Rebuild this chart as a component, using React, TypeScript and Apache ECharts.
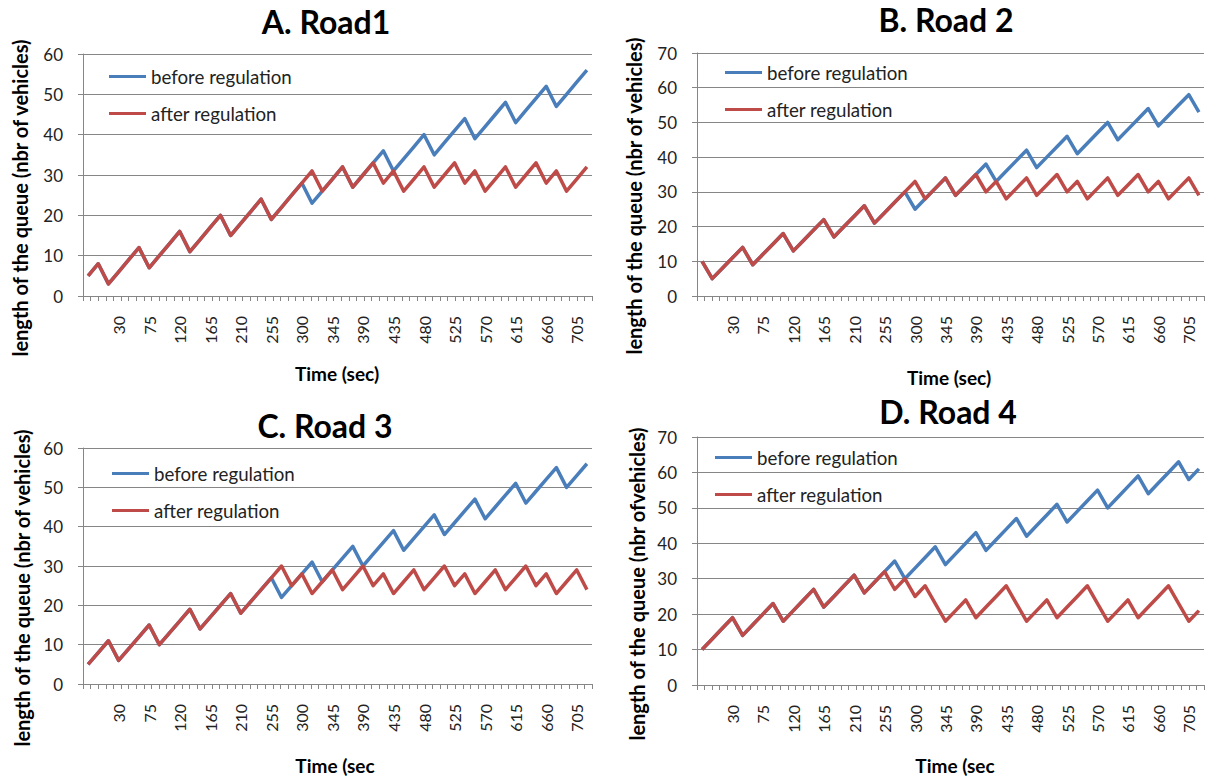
import React, { useEffect, useRef } from "react";
import * as echarts from "echarts";

// Category axis (seconds); first slot carries no label
const TIME = ["", "0", "15", "30", "45", "60", "75", "90", "105", "120", "135", "150", "165", "180", "195", "210", "225", "240", "255", "270", "285", "300", "315", "330", "345", "360", "375", "390", "405", "420", "435", "450", "465", "480", "495", "510", "525", "540", "555", "570", "585", "600", "615", "630", "645", "660", "675", "690", "705", "720"];

const SERIES_NAMES = ["before regulation", "after regulation"];

const A_BEFORE = [5, 8, 3, 6, 9, 12, 7, 10, 13, 16, 11, 14, 17, 20, 15, 18, 21, 24, 19, 22, 25, 28, 23, 26, 29, 32, 27, 30, 33, 36, 31, 34, 37, 40, 35, 38, 41, 44, 39, 42, 45, 48, 43, 46, 49, 52, 47, 50, 53, 56];
const A_AFTER = [5, 8, 3, 6, 9, 12, 7, 10, 13, 16, 11, 14, 17, 20, 15, 18, 21, 24, 19, 22, 25, 28, 31, 26, 29, 32, 27, 30, 33, 28, 31, 26, 29, 32, 27, 30, 33, 28, 31, 26, 29, 32, 27, 30, 33, 28, 31, 26, 29, 32];

const B_BEFORE = [10, 5, 8, 11, 14, 9, 12, 15, 18, 13, 16, 19, 22, 17, 20, 23, 26, 21, 24, 27, 30, 25, 28, 31, 34, 29, 32, 35, 38, 33, 36, 39, 42, 37, 40, 43, 46, 41, 44, 47, 50, 45, 48, 51, 54, 49, 52, 55, 58, 53];
const B_AFTER = [10, 5, 8, 11, 14, 9, 12, 15, 18, 13, 16, 19, 22, 17, 20, 23, 26, 21, 24, 27, 30, 33, 28, 31, 34, 29, 32, 35, 30, 33, 28, 31, 34, 29, 32, 35, 30, 33, 28, 31, 34, 29, 32, 35, 30, 33, 28, 31, 34, 29];

const C_BEFORE = [5, 8, 11, 6, 9, 12, 15, 10, 13, 16, 19, 14, 17, 20, 23, 18, 21, 24, 27, 22, 25, 28, 31, 26, 29, 32, 35, 30, 33, 36, 39, 34, 37, 40, 43, 38, 41, 44, 47, 42, 45, 48, 51, 46, 49, 52, 55, 50, 53, 56];
const C_AFTER = [5, 8, 11, 6, 9, 12, 15, 10, 13, 16, 19, 14, 17, 20, 23, 18, 21, 24, 27, 30, 25, 28, 23, 26, 29, 24, 27, 30, 25, 28, 23, 26, 29, 24, 27, 30, 25, 28, 23, 26, 29, 24, 27, 30, 25, 28, 23, 26, 29, 24];

const D_BEFORE = [10, 13, 16, 19, 14, 17, 20, 23, 18, 21, 24, 27, 22, 25, 28, 31, 26, 29, 32, 35, 30, 33, 36, 39, 34, 37, 40, 43, 38, 41, 44, 47, 42, 45, 48, 51, 46, 49, 52, 55, 50, 53, 56, 59, 54, 57, 60, 63, 58, 61];
const D_AFTER = [10, 13, 16, 19, 14, 17, 20, 23, 18, 21, 24, 27, 22, 25, 28, 31, 26, 29, 32, 27, 30, 25, 28, 23, 18, 21, 24, 19, 22, 25, 28, 23, 18, 21, 24, 19, 22, 25, 28, 23, 18, 21, 24, 19, 22, 25, 28, 23, 18, 21];

const TITLES = ["A. Road1", "B. Road 2", "C. Road 3", "D. Road 4"];
const Y_NAMES = [
  "length of the queue (nbr of vehicles)",
  "length of the queue (nbr of vehicles)",
  "length of the queue (nbr of vehicles)",
  "length of the queue (nbr ofvehicles)",
];
const X_NAMES = ["Time (sec)", "Time (sec)", "Time (sec", "Time (sec"];
const Y_MAX = [60, 70, 60, 70];
const BEFORE = [A_BEFORE, B_BEFORE, C_BEFORE, D_BEFORE];
const AFTER = [A_AFTER, B_AFTER, C_AFTER, D_AFTER];

// Minor tick slots drawn along the time axis
const TICK_SLOTS = 67;

// Layout (pixels)
const LAYOUT = [
  { left: 83, top: 54, width: 509, height: 242, titleX: 326, titleY: 21, yNameX: 20, yNameY: 198, xNameX: 337, xNameY: 373, legLeft: 104, legTop: 62 },
  { left: 697, top: 53, width: 507, height: 243, titleX: 946, titleY: 19, yNameX: 634, yNameY: 196, xNameX: 949, xNameY: 377, legLeft: 720, legTop: 58 },
  { left: 83, top: 448, width: 509, height: 236, titleX: 325, titleY: 425, yNameX: 22, yNameY: 588, xNameX: 335, xNameY: 765, legLeft: 107, legTop: 459 },
  { left: 697, top: 437, width: 507, height: 248, titleX: 948, titleY: 411, yNameX: 637, yNameY: 584, xNameX: 955, xNameY: 765, legLeft: 710, legTop: 443 },
];

const BLUE = "#4A7EBB";
const RED = "#BE4B48";
const GRID_GRAY = "#868686";
const FONT = "Lato";

export default function App() {
  const ref = useRef<HTMLDivElement>(null);

  useEffect(() => {
    if (!ref.current) return;
    const chart = echarts.init(ref.current, undefined, { renderer: "svg" });

    const grids: any[] = [];
    const xAxes: any[] = [];
    const tickAxes: any[] = [];
    const yAxes: any[] = [];
    const series: any[] = [];
    const legends: any[] = [];
    const graphics: any[] = [];
    const tickData = new Array(TICK_SLOTS).fill("");

    const centered = { textAlign: "center", textVerticalAlign: "middle", align: "center", verticalAlign: "middle" };

    LAYOUT.forEach((L, i) => {
      grids.push({ left: L.left, top: L.top, width: L.width, height: L.height, containLabel: false });
      xAxes.push({
        type: "category",
        gridIndex: i,
        position: "bottom",
        data: TIME,
        boundaryGap: true,
        axisLine: { show: true, lineStyle: { color: GRID_GRAY, width: 1 } },
        axisTick: { show: false },
        axisLabel: {
          interval: (idx: number) => idx % 3 === 0 && idx > 0,
          rotate: 90,
          margin: 20,
          fontSize: 16,
          fontFamily: FONT,
          color: "#222",
        },
        splitLine: { show: false },
      });
      tickAxes.push({
        type: "category",
        gridIndex: i,
        position: "bottom",
        data: tickData,
        boundaryGap: true,
        axisLine: { show: false },
        axisTick: { show: true, interval: 0, length: 5, lineStyle: { color: GRID_GRAY } },
        axisLabel: { show: false },
        splitLine: { show: false },
      });
      yAxes.push({
        type: "value",
        gridIndex: i,
        min: 0,
        max: Y_MAX[i],
        interval: 10,
        axisLine: { show: true, lineStyle: { color: GRID_GRAY, width: 1 } },
        axisTick: { show: true, length: 5, lineStyle: { color: GRID_GRAY } },
        axisLabel: { margin: 20, fontSize: 17, fontFamily: FONT, color: "#222" },
        splitLine: { show: true, lineStyle: { color: GRID_GRAY, width: 1 } },
      });
      series.push({
        type: "line",
        name: SERIES_NAMES[0],
        xAxisIndex: i,
        yAxisIndex: i,
        data: BEFORE[i],
        symbol: "none",
        color: BLUE,
        lineStyle: { color: BLUE, width: 3.5, join: "round" },
        z: 2,
      });
      series.push({
        type: "line",
        name: SERIES_NAMES[1],
        xAxisIndex: i,
        yAxisIndex: i,
        data: AFTER[i],
        symbol: "none",
        color: RED,
        lineStyle: { color: RED, width: 3.5, join: "round" },
        z: 3,
      });
      legends.push({
        orient: "vertical",
        left: L.legLeft,
        top: L.legTop,
        data: SERIES_NAMES,
        icon: "rect",
        itemWidth: 37,
        itemHeight: 3,
        itemGap: 18,
        selectedMode: false,
        textStyle: { fontSize: 18.7, fontFamily: FONT, color: "#222" },
      });
      graphics.push({
        type: "text",
        x: L.titleX,
        y: L.titleY,
        style: { text: TITLES[i], fill: "#000", fontSize: 32, fontWeight: "bold", fontFamily: FONT, ...centered },
      });
      graphics.push({
        type: "text",
        x: L.yNameX,
        y: L.yNameY,
        rotation: Math.PI / 2,
        style: { text: Y_NAMES[i], fill: "#000", fontSize: 20, fontWeight: "bold", fontFamily: FONT, ...centered },
      });
      graphics.push({
        type: "text",
        x: L.xNameX,
        y: L.xNameY,
        style: { text: X_NAMES[i], fill: "#000", fontSize: 19, fontWeight: "bold", fontFamily: FONT, ...centered },
      });
    });

    chart.setOption({
      animation: false,
      backgroundColor: "#fff",
      textStyle: { fontFamily: FONT },
      grid: grids,
      xAxis: [...xAxes, ...tickAxes],
      yAxis: yAxes,
      legend: legends,
      series,
      graphic: graphics,
    });

    return () => chart.dispose();
  }, []);

  return (
    <div
      ref={ref}
      style={{ position: "fixed", left: 0, top: 0, width: 1206, height: 779, background: "#fff" }}
    />
  );
}
